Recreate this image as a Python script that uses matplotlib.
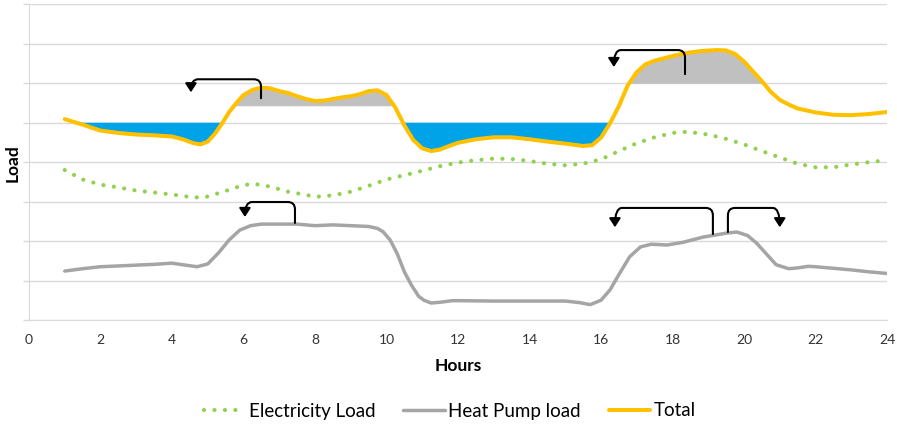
import numpy as np
import matplotlib.pyplot as plt
from matplotlib.path import Path
from matplotlib.patches import FancyArrowPatch

plt.rcParams['font.family'] = ['Lato', 'DejaVu Sans']

# Total load (hours, load)
total_h = [1.0, 1.5, 2.0, 2.5, 3.0, 3.5, 4.0, 4.3, 4.6, 4.8, 5.0, 5.2, 5.4, 5.6, 5.8,
           6.0, 6.25, 6.5, 6.75, 7.0, 7.25, 7.5, 7.75, 8.0, 8.25, 8.5, 8.75, 9.0, 9.25,
           9.5, 9.75, 10.0, 10.25, 10.5, 10.75, 11.0, 11.25, 11.5, 11.75, 12.0, 12.5,
           13.0, 13.5, 14.0, 14.5, 15.0, 15.5, 15.75, 16.0, 16.25, 16.5, 16.75, 17.0,
           17.25, 17.5, 17.75, 18.0, 18.25, 18.5, 18.75, 19.0, 19.25, 19.5, 19.75, 20.0,
           20.25, 20.5, 20.75, 21.0, 21.25, 21.5, 22.0, 22.5, 23.0, 23.5, 24.0]
total_v = [5.09, 4.95, 4.80, 4.74, 4.70, 4.68, 4.65, 4.58, 4.48, 4.45, 4.52, 4.72, 4.98,
           5.27, 5.50, 5.70, 5.83, 5.89, 5.87, 5.80, 5.75, 5.67, 5.60, 5.55, 5.56, 5.60,
           5.64, 5.67, 5.72, 5.80, 5.82, 5.70, 5.38, 4.93, 4.56, 4.35, 4.28, 4.32, 4.41,
           4.49, 4.58, 4.63, 4.63, 4.58, 4.52, 4.47, 4.41, 4.43, 4.62, 4.98, 5.42, 5.95,
           6.28, 6.48, 6.57, 6.63, 6.69, 6.74, 6.78, 6.81, 6.83, 6.84, 6.83, 6.74, 6.55,
           6.30, 6.05, 5.78, 5.58, 5.46, 5.36, 5.26, 5.20, 5.19, 5.22, 5.27]

# Electricity load
elec_h = [1.0, 1.5, 2.0, 2.5, 3.0, 3.5, 4.0, 4.5, 4.8, 5.0, 5.5, 6.0, 6.3, 6.75, 7.25,
          7.75, 8.0, 8.5, 9.0, 9.5, 10.0, 10.5, 11.0, 11.5, 12.0, 12.5, 13.0, 13.5, 14.0,
          14.5, 15.0, 15.5, 16.0, 16.5, 17.0, 17.5, 18.0, 18.4, 19.0, 19.5, 20.0, 20.5,
          21.0, 21.5, 22.0, 22.5, 23.0, 23.5, 24.0]
elec_v = [3.80, 3.56, 3.43, 3.36, 3.28, 3.23, 3.18, 3.12, 3.10, 3.13, 3.27, 3.42, 3.45,
          3.38, 3.25, 3.17, 3.12, 3.16, 3.25, 3.40, 3.56, 3.67, 3.78, 3.90, 3.99, 4.05,
          4.09, 4.08, 4.03, 3.96, 3.92, 3.96, 4.07, 4.28, 4.48, 4.63, 4.74, 4.77, 4.70,
          4.59, 4.45, 4.28, 4.12, 3.96, 3.87, 3.87, 3.94, 4.00, 4.05]

# Heat pump load
hp_h = [1.0, 1.5, 2.0, 2.5, 3.0, 3.5, 4.0, 4.3, 4.7, 5.0, 5.3, 5.6, 5.9, 6.2, 6.5, 7.0,
        7.5, 8.0, 8.5, 9.0, 9.5, 9.75, 9.9, 10.1, 10.3, 10.5, 10.7, 10.9, 11.05, 11.25,
        11.5, 11.85, 12.0, 13.0, 14.0, 15.0, 15.4, 15.7, 16.0, 16.25, 16.5, 16.8, 17.1,
        17.4, 17.85, 18.3, 18.85, 19.5, 19.8, 20.1, 20.35, 20.65, 20.9, 21.25, 21.5,
        21.8, 22.0, 22.5, 23.0, 23.5, 24.0]
hp_v = [1.24, 1.30, 1.35, 1.37, 1.39, 1.41, 1.44, 1.40, 1.35, 1.42, 1.70, 2.03, 2.28,
        2.39, 2.43, 2.43, 2.43, 2.39, 2.41, 2.39, 2.37, 2.32, 2.24, 2.03, 1.68, 1.22,
        0.88, 0.60, 0.50, 0.43, 0.45, 0.49, 0.49, 0.48, 0.48, 0.48, 0.44, 0.39, 0.50,
        0.76, 1.15, 1.60, 1.85, 1.92, 1.90, 1.97, 2.10, 2.20, 2.23, 2.14, 1.95, 1.65,
        1.40, 1.30, 1.32, 1.36, 1.35, 1.31, 1.27, 1.22, 1.18]

# shading levels
blue_level = 5.0
peak1_level = 5.43
peak2_level = 6.0

# load-shift arrows: (start x, start y, top y, tip x, tip y)
arrows = [
    (6.49, 5.62, 6.10, 4.53, 5.77),
    (18.35, 6.23, 6.84, 16.36, 6.41),
    (7.44, 2.46, 2.99, 6.04, 2.61),
    (19.13, 2.18, 2.84, 16.39, 2.35),
    (19.55, 2.23, 2.84, 21.00, 2.35),
]

fig = plt.figure(figsize=(8.97, 4.24), dpi=100)
ax = fig.add_axes([29 / 897, 1 - 320 / 424, 858 / 897, 315.7 / 424])

th = np.array(total_h)
tv = np.array(total_v)

ax.fill_between(th, tv, blue_level, where=tv < blue_level, interpolate=True,
                color='#00A2E8', lw=0, zorder=2)
ax.fill_between(th, tv, peak1_level, where=(tv > peak1_level) & (th < 12),
                interpolate=True, color='#C0C0C0', lw=0, zorder=2)
ax.fill_between(th, tv, peak2_level, where=(tv > peak2_level) & (th > 12),
                interpolate=True, color='#C0C0C0', lw=0, zorder=2)

ax.plot(elec_h, elec_v, color='#92D050', lw=3.0, linestyle=(0, (0.01, 2.5)),
        dash_capstyle='round', label='Electricity Load', zorder=3)
ax.plot(hp_h, hp_v, color='#A5A5A5', lw=2.5, solid_capstyle='round',
        solid_joinstyle='round', label='Heat Pump load', zorder=3)
ax.plot(total_h, total_v, color='#FFC000', lw=2.9, solid_capstyle='round',
        solid_joinstyle='round', label='Total', zorder=4)

# bracket arrows with rounded corners
rx, ry = 0.2, 0.19
for x0, y0, ytop, xt, yt in arrows:
    s = 1 if xt < x0 else -1
    verts = [(x0, y0), (x0, ytop - ry), (x0, ytop), (x0 - s * rx, ytop),
             (xt + s * rx, ytop), (xt, ytop), (xt, yt)]
    codes = [Path.MOVETO, Path.LINETO, Path.CURVE3, Path.CURVE3,
             Path.LINETO, Path.CURVE3, Path.CURVE3]
    arr = FancyArrowPatch(path=Path(verts, codes),
                          arrowstyle='-|>,head_length=0.65,head_width=0.42',
                          mutation_scale=8, color='black', lw=1.5, zorder=5)
    ax.add_patch(arr)

ax.set_xlim(0, 24)
ax.set_ylim(0, 8)
ax.set_xticks(np.arange(0, 25, 2))
ax.set_yticks(np.arange(0, 9, 1))
ax.set_yticklabels([])
ax.grid(axis='y', color='#D9D9D9', lw=1)
ax.set_axisbelow(True)
ax.tick_params(axis='x', length=0, pad=10, labelsize=10, labelcolor='#333333')
ax.tick_params(axis='y', length=4.5, color='#D9D9D9', width=1)
for sp in ['top', 'right']:
    ax.spines[sp].set_visible(False)
ax.spines['left'].set_color('#D9D9D9')
ax.spines['bottom'].set_color('#D9D9D9')

ax.set_xlabel('Hours', fontsize=12.5, fontweight='bold', labelpad=9)
ax.set_ylabel('Load', fontsize=12.5, fontweight='bold')
ax.yaxis.set_label_coords(-0.0093, 0.497)

fig.legend(loc='center', bbox_to_anchor=(450 / 897, 1 - 411 / 424), ncol=3,
           frameon=False, fontsize=13.5, handlelength=2.2, handletextpad=0.2,
           columnspacing=1.5)

fig.savefig('out.png', dpi=100)
